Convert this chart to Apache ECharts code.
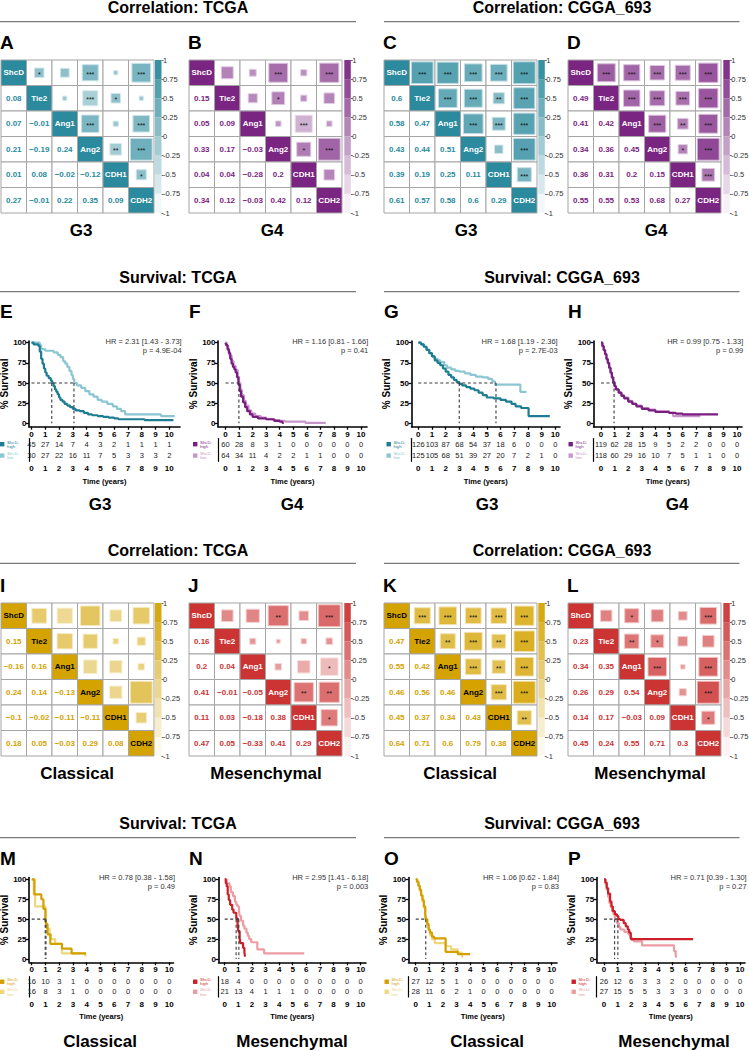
<!DOCTYPE html>
<html><head><meta charset="utf-8">
<script src="https://cdn.jsdelivr.net/npm/echarts@6/dist/echarts.min.js"></script>
<style>html,body{margin:0;padding:0;background:#fff}#c{width:749px;height:1050px}</style>
</head><body><div id="c"></div>
<script>
// ---------------- DATA ----------------
const genes = ['ShcD','Tie2','Ang1','Ang2','CDH1','CDH2'];
// lower triangle: row k => gene k+1 vs genes 0..k
const corrTCGA_G3 = [[0.08],[0.07,-0.01],[0.21,-0.19,0.24],[0.01,0.08,-0.02,-0.12],[0.27,-0.01,0.22,0.35,0.09]];
const corrTCGA_G4 = [[0.15],[0.05,0.09],[0.33,0.17,-0.03],[0.04,0.04,-0.28,0.2],[0.34,0.12,-0.03,0.42,0.12]];
const corrCGGA_G3 = [[0.6],[0.58,0.47],[0.43,0.44,0.51],[0.39,0.19,0.25,0.11],[0.61,0.57,0.58,0.6,0.29]];
const corrCGGA_G4 = [[0.49],[0.41,0.42],[0.34,0.36,0.45],[0.36,0.31,0.2,0.15],[0.55,0.55,0.53,0.68,0.27]];
const corrTCGA_CL = [[0.15],[-0.16,0.16],[0.24,0.14,-0.13],[-0.1,-0.02,-0.11,-0.11],[0.18,0.05,-0.03,0.29,0.08]];
const corrTCGA_MES = [[0.16],[0.2,0.04],[0.41,-0.01,-0.05],[0.11,0.03,-0.18,0.38],[0.47,0.05,-0.33,0.41,0.29]];
const corrCGGA_CL = [[0.47],[0.55,0.42],[0.46,0.56,0.46],[0.45,0.37,0.34,0.43],[0.64,0.71,0.6,0.79,0.38]];
const corrCGGA_MES = [[0.23],[0.34,0.35],[0.26,0.29,0.54],[0.14,0.17,-0.03,0.09],[0.45,0.24,0.55,0.71,0.3]];
// upper triangle significance: row i => genes i+1..5
const starsTCGA_G3 = [['*','','***','','***'],['','***','*',''],['***','','***'],['**','***'],['*']];
const starsTCGA_G4 = [['','','***','','***'],['','*','',''],['','***',''],['*','***'],['']];
const starsCGGA_G3 = [['***','***','***','***','***'],['***','***','**','***'],['***','***','***'],['','***'],['***']];
const starsCGGA_G4 = [['***','***','***','***','***'],['***','***','***','***'],['***','**','***'],['*','***'],['***']];
const starsTCGA_CL = [['','','','',''],['','','',''],['','',''],['',''],['']];
const starsTCGA_MES = [['','','**','','***'],['','','',''],['','','*'],['**','**'],['*']];
const starsCGGA_CL = [['***','***','***','***','***'],['**','***','**','***'],['***','**','***'],['***','***'],['**']];
const starsCGGA_MES = [['','*','','','***'],['**','*','',''],['***','','***'],['','***'],['*']];
const colorbarBreaks = [-1,-0.75,-0.5,-0.25,0,0.25,0.5,0.75,1];

// Kaplan-Meier step points [time (years), % survival]
const kmTCGA_G3_high = [[0,100],[0.15,98],[0.5,96],[0.6,89],[0.7,80],[0.8,74],[0.9,68],[1.0,63],[1.1,59],[1.25,56],[1.4,53],[1.5,50],[1.6,46],[1.7,42],[1.8,39],[1.9,36],[2.0,32],[2.1,29],[2.25,27],[2.4,24],[2.6,22],[2.8,20],[3.0,18],[3.2,16],[3.5,15],[3.8,13],[4.1,11],[4.4,10],[4.8,9],[5.2,8],[5.6,7],[6.0,6],[6.3,5],[8.2,4],[10.3,4]];
const kmTCGA_G3_low = [[0,100],[0.6,97],[0.7,92],[1.0,90],[1.6,88],[1.9,85],[2.1,82],[2.3,77],[2.45,74],[2.6,70],[2.75,65],[2.9,60],[3.0,55],[3.1,50],[3.3,47],[3.6,44],[3.9,40],[4.2,36],[4.5,33],[4.8,29],[5.1,27],[5.5,24],[5.9,21],[6.2,18],[6.5,15],[6.8,11],[9.4,9],[10.4,9]];
const kmTCGA_G4_high = [[0,100],[0.05,97],[0.15,92],[0.25,87],[0.35,80],[0.45,74],[0.55,70],[0.65,67],[0.75,63],[0.85,57],[0.95,48],[1.05,40],[1.15,33],[1.3,26],[1.45,20],[1.6,15],[1.8,11],[2.0,8],[2.4,6],[3.0,5],[3.6,3],[4.0,2],[4.2,0.5],[4.3,0.5]];
const kmTCGA_G4_low = [[0,100],[0.1,96],[0.2,90],[0.3,84],[0.45,77],[0.6,71],[0.75,66],[0.9,58],[1.0,50],[1.1,42],[1.2,35],[1.35,28],[1.5,22],[1.7,16],[1.9,12],[2.2,9],[2.6,7],[3.0,5],[3.5,4],[4.0,3],[4.4,2],[5.9,0.5],[7.4,0.5]];
const kmCGGA_G3_high = [[0,100],[0.2,98],[0.4,95],[0.6,91],[0.8,87],[1.0,83],[1.2,78],[1.4,75],[1.6,72],[1.8,68],[2.0,64],[2.2,60],[2.4,57],[2.6,54],[2.8,51],[3.0,49],[3.2,47],[3.5,45],[3.8,43],[4.1,41],[4.4,38],[4.7,35],[5.0,32],[5.5,31],[6.0,29],[6.4,27],[6.8,24],[7.1,21],[7.5,19],[8.05,9],[9.6,9]];
const kmCGGA_G3_low = [[0,100],[0.2,98],[0.4,95],[0.6,91],[0.8,87],[1.0,83],[1.2,80],[1.4,78],[1.6,76],[1.9,72],[2.1,69],[2.4,67],[2.7,65],[3.0,64],[3.4,62],[3.8,60],[4.2,58],[4.7,57],[5.1,55],[5.4,52],[5.6,48],[7.45,39],[7.9,39]];
const kmCGGA_G4_high = [[0,100],[0.1,96],[0.2,91],[0.3,86],[0.4,80],[0.5,75],[0.6,69],[0.7,63],[0.8,57],[0.9,51],[1.0,46],[1.1,42],[1.3,38],[1.5,34],[1.7,31],[2.0,27],[2.3,24],[2.6,21],[3.0,18],[3.5,16],[4.0,14],[5.0,13],[5.5,12],[6.0,11],[8.6,11]];
const kmCGGA_G4_low = [[0,100],[0.1,95],[0.2,90],[0.3,85],[0.4,79],[0.5,74],[0.6,68],[0.7,62],[0.8,56],[0.9,50],[1.0,46],[1.1,42],[1.3,38],[1.5,35],[1.7,32],[2.0,28],[2.3,24],[2.6,22],[3.0,19],[3.5,17],[4.0,15],[5.0,13],[5.3,9],[7.3,9]];
const kmTCGA_CL_high = [[0,100],[0.2,81],[0.7,75],[0.85,63],[1.0,50],[1.05,44],[1.15,31],[1.35,19],[2.2,13],[2.9,7],[3.95,7]];
const kmTCGA_CL_low = [[0,100],[0.15,81],[0.25,66],[1.0,50],[1.05,44],[1.1,38],[1.3,31],[1.4,25],[1.7,19],[2.2,7],[3.9,3]];
const kmTCGA_MES_high = [[0,100],[0.08,95],[0.15,91],[0.22,81],[0.3,74],[0.4,68],[0.55,62],[0.65,58],[0.85,51],[0.95,43],[1.0,35],[1.1,26],[1.15,20],[1.35,14],[1.45,8],[1.5,3],[1.55,3]];
const kmTCGA_MES_low = [[0,100],[0.15,95],[0.35,91],[0.45,84],[0.6,79],[0.75,72],[0.85,68],[0.95,66],[1.05,60],[1.1,54],[1.2,48],[1.35,42],[1.45,38],[1.6,33],[1.7,29],[1.8,25],[1.95,21],[2.4,12],[2.9,7],[5.85,7]];
const kmCGGA_CL_high = [[0,100],[0.1,97],[0.2,92],[0.3,87],[0.4,80],[0.5,74],[0.6,66],[0.7,56],[0.75,50],[0.85,44],[0.95,37],[1.05,33],[1.2,28],[1.35,26],[2.2,9],[3.1,6],[4.0,6]];
const kmCGGA_CL_low = [[0,100],[0.1,96],[0.2,91],[0.3,85],[0.4,79],[0.5,72],[0.6,64],[0.7,55],[0.75,49],[0.85,42],[0.95,36],[1.05,30],[1.2,25],[1.4,20],[2.2,16],[2.6,12],[3.1,8],[3.4,3],[3.5,3]];
const kmCGGA_MES_high = [[0,100],[0.1,96],[0.2,89],[0.3,82],[0.45,72],[0.55,66],[0.65,60],[0.8,56],[0.95,54],[1.05,50],[1.2,49],[1.45,45],[1.6,41],[1.75,37],[1.85,33],[1.97,25],[6.55,25]];
const kmCGGA_MES_low = [[0,100],[0.1,94],[0.2,87],[0.3,78],[0.4,70],[0.5,65],[0.6,60],[0.7,56],[0.8,50],[0.95,45],[1.1,40],[1.2,37],[1.5,34],[1.8,31],[1.95,27],[2.05,24],[2.2,22],[2.8,17],[5.15,10],[5.27,3],[5.37,3]];
// median survival times (dashed guides)
const medTCGA_G3 = [1.47, 3.08], medTCGA_G4 = [0.99], medCGGA_G3 = [2.99, 5.67], medCGGA_G4 = [0.96];
const medTCGA_CL = [0.98, 1.04], medTCGA_MES = [0.84, 1.04], medCGGA_CL = [0.74], medCGGA_MES = [0.78, 1.02];
const medianLevel = 50;
// numbers at risk
const riskTimes = [0,1,2,3,4,5,6,7,8,9,10];
const riskTCGA_G3_high = [45,27,14,7,4,3,2,1,1,1,1], riskTCGA_G3_low = [30,27,22,16,11,7,5,3,3,3,2];
const riskTCGA_G4_high = [60,28,8,3,1,0,0,0,0,0,0], riskTCGA_G4_low = [64,34,11,4,2,2,1,1,0,0,0];
const riskCGGA_G3_high = [126,103,87,68,54,37,18,6,0,0,0], riskCGGA_G3_low = [125,105,68,51,39,27,20,7,2,1,0];
const riskCGGA_G4_high = [119,62,28,15,9,5,2,2,0,0,0], riskCGGA_G4_low = [118,60,29,16,10,7,5,1,1,0,0];
const riskTCGA_CL_high = [16,10,3,1,0,0,0,0,0,0,0], riskTCGA_CL_low = [16,8,3,1,0,0,0,0,0,0,0];
const riskTCGA_MES_high = [18,4,0,0,0,0,0,0,0,0,0], riskTCGA_MES_low = [21,13,4,1,1,1,0,0,0,0,0];
const riskCGGA_CL_high = [27,12,5,1,0,0,0,0,0,0,0], riskCGGA_CL_low = [28,11,6,2,1,0,0,0,0,0,0];
const riskCGGA_MES_high = [26,12,6,3,3,2,0,0,0,0,0], riskCGGA_MES_low = [27,15,5,5,3,3,3,0,0,0,0];
const hrTCGA_G3 = ['HR = 2.31 [1.43 - 3.73]','p = 4.9E-04'];
const hrTCGA_G4 = ['HR = 1.16 [0.81 - 1.66]','p = 0.41'];
const hrCGGA_G3 = ['HR = 1.68 [1.19 - 2.36]','p = 2.7E-03'];
const hrCGGA_G4 = ['HR = 0.99 [0.75 - 1.33]','p = 0.99'];
const hrTCGA_CL = ['HR = 0.78 [0.38 - 1.58]','p = 0.49'];
const hrTCGA_MES = ['HR = 2.95 [1.41 - 6.18]','p = 0.003'];
const hrCGGA_CL = ['HR = 1.06 [0.62 - 1.84]','p = 0.83'];
const hrCGGA_MES = ['HR = 0.71 [0.39 - 1.30]','p = 0.27'];
const timeTicks = [0,1,2,3,4,5,6,7,8,9,10];
const survTicks = [0,25,50,75,100];
const riskGroups = ['ShcD-\nhigh','ShcD-\nlow'];

// ---------------- STYLE / LAYOUT ----------------
const FONT = "'Liberation Sans', Arial, Helvetica, sans-serif";
const C = {
  teal:{corr:'#2b8a9d', hi:'#1c7d92', lo:'#8cc6d3', diagText:'#fff'},
  purple:{corr:'#7b2582', hi:'#7a1d80', lo:'#c896cb', diagText:'#fff'},
  gold:{corr:'#d4a300', hi:'#d4a000', lo:'#eed77c', diagText:'#000'},
  red:{corr:'#cc3333', hi:'#cc1f28', lo:'#ec9ca2', diagText:'#fff'}
};
function mix(hex, t){
  const r=parseInt(hex.slice(1,3),16), g=parseInt(hex.slice(3,5),16), b=parseInt(hex.slice(5,7),16);
  const f=v=>Math.round(255-(255-v)*t);
  return 'rgb('+f(r)+','+f(g)+','+f(b)+')';
}
const option = {animation:false, textStyle:{fontFamily:FONT}, grid:[], xAxis:[], yAxis:[], series:[], graphic:[]};
const G = option.graphic;
function txt(x,y,text,o){
  G.push({type:'text', x:x, y:y, silent:true, style:Object.assign({text:text, fontFamily:FONT, fill:'#000', align:'center', verticalAlign:'middle'}, o||{})});
}
function hline(x1,x2,y){ G.push({type:'line', silent:true, shape:{x1:x1,y1:y,x2:x2,y2:y}, style:{stroke:'#7a7a7a', lineWidth:1.3}}); }
function addGrid(g){ g.containLabel=false; g.outerBoundsMode='none'; option.grid.push(g); return option.grid.length-1; }

function corrPanel(cfg){
  const col = cfg.col;
  const gi = addGrid({left:cfg.left, top:cfg.top, width:cfg.size, height:cfg.size});
  option.xAxis.push({gridIndex:gi, type:'category', data:genes, show:false});
  option.yAxis.push({gridIndex:gi, type:'category', data:genes, inverse:true, show:false});
  const L = cfg.lower, S = cfg.stars;
  let maxAbs = 0; L.forEach(r=>r.forEach(v=>{maxAbs=Math.max(maxAbs,Math.abs(v));}));
  const data = [];
  for (let i=0;i<6;i++) for (let j=0;j<6;j++){
    const r = i===j ? 1 : (i>j ? L[i-1][j] : L[j-1][i]);
    data.push([j,i,r]);
  }
  option.series.push({type:'custom', xAxisIndex:gi, yAxisIndex:gi, silent:true, data:data,
    renderItem:function(params, api){
      const j=api.value(0), i=api.value(1), r=api.value(2);
      const c=api.coord([j,i]), sz=api.size([1,1]), w=sz[0], h=sz[1];
      const ch=[{type:'rect', shape:{x:c[0]-w/2, y:c[1]-h/2, width:w, height:h},
        style:{fill: i===j ? col.corr : '#fff', stroke:'#a5a5a5', lineWidth:1}}];
      const ts = {fontFamily:FONT, align:'center', verticalAlign:'middle', fontWeight:'bold', fontSize:8};
      if (i===j){
        ch.push({type:'text', x:c[0], y:c[1], style:Object.assign({text:genes[i], fill:col.diagText}, ts)});
      } else if (i>j){
        const s = (r<0?'\u2212':'') + String(Math.abs(r));
        ch.push({type:'text', x:c[0], y:c[1], style:Object.assign({text:s, fill:col.corr}, ts)});
      } else {
        const k = w*(0.1+0.76*Math.pow(Math.abs(r)/maxAbs,0.7));
        const t = (r+1)/2;
        ch.push({type:'rect', shape:{x:c[0]-k/2, y:c[1]-k/2, width:k, height:k},
          style:{fill:mix(col.corr,t), stroke:mix(col.corr,t*0.4), lineWidth:1}});
        const st = S[i][j-i-1];
        if (st) ch.push({type:'text', x:c[0], y:c[1]+1.5, style:{text:st, fill:'#111', fontSize:7, fontFamily:FONT, align:'center', verticalAlign:'middle'}});
      }
      return {type:'group', children:ch};
    }});
  // colour bar
  const ci = addGrid({left:cfg.cbX, top:cfg.top, width:6.5, height:cfg.size});
  option.xAxis.push({gridIndex:ci, type:'category', data:['c'], show:false});
  option.yAxis.push({gridIndex:ci, type:'value', min:-1, max:1, interval:0.25, position:'right',
    axisLine:{show:false}, splitLine:{show:false},
    axisTick:{show:true, length:2, lineStyle:{color:'#444', width:0.8}},
    axisLabel:{fontSize:7.5, color:'#333', margin:1.5, fontFamily:FONT}});
  const segs = [];
  for (let k=0;k<colorbarBreaks.length-1;k++) segs.push([0, colorbarBreaks[k], colorbarBreaks[k+1]]);
  option.series.push({type:'custom', xAxisIndex:ci, yAxisIndex:ci, silent:true, data:segs,
    renderItem:function(params, api){
      const lo=api.value(1), hi=api.value(2);
      const p1=api.coord([0,hi]), p2=api.coord([0,lo]), w=api.size([1,0])[0];
      return {type:'rect', shape:{x:p1[0]-w/2, y:p1[1], width:w, height:p2[1]-p1[1]},
        style:{fill:mix(col.corr,((lo+hi)/2+1)/2)}};
    }});
  txt(cfg.left-1, cfg.top-18, cfg.letter, {fontSize:19, fontWeight:'bold', align:'left'});
  txt(cfg.labelX, cfg.top+cfg.size+17, cfg.label, {fontSize:17, fontWeight:'bold'});
}

const axisBase = {lineStyle:{color:'#000', width:1.6}};
function kmPanel(p){
  const R = p.row, col = p.col;
  const unit=(p.x10-p.x0)/10;
  const xmin=(p.axisX-p.x0)/unit, xmax=(p.axisEnd-p.x0)/unit;
  const yu=(R.y0-R.y100)/100;
  const ymin=-(R.yBot-R.y0)/yu, ymax=(R.y0-R.yTop)/yu;
  const tickStyle={lineStyle:{color:'#000', width:1.3}, length:3};
  const labStyle={fontSize:8, fontWeight:'bold', color:'#000', fontFamily:FONT};
  const gi = addGrid({left:p.axisX, top:R.yTop, width:p.axisEnd-p.axisX, height:R.yBot-R.yTop});
  option.xAxis.push({gridIndex:gi, type:'value', min:xmin, max:xmax, splitLine:{show:false},
    axisLine:Object.assign({onZero:false},axisBase),
    axisTick:Object.assign({customValues:timeTicks},tickStyle),
    axisLabel:Object.assign({customValues:timeTicks, margin:3.5},labStyle)});
  option.yAxis.push({gridIndex:gi, type:'value', min:ymin, max:ymax, splitLine:{show:false},
    name:'% Survival', nameLocation:'middle', nameGap:17,
    nameTextStyle:{fontSize:10, fontWeight:'bold', color:'#000', fontFamily:FONT},
    axisLine:Object.assign({onZero:false},axisBase),
    axisTick:Object.assign({customValues:survTicks},tickStyle),
    axisLabel:Object.assign({customValues:survTicks, margin:2.5},labStyle)});
  const line=(d,c,z)=>option.series.push({type:'line', xAxisIndex:gi, yAxisIndex:gi, data:d, step:'end',
    symbol:'none', showSymbol:false, silent:true, z:z, lineStyle:{color:c, width:2.2}});
  line(p.low, col.lo, 3); line(p.high, col.hi, 4);
  const dash={type:'line', xAxisIndex:gi, yAxisIndex:gi, symbol:'none', showSymbol:false, silent:true, z:5,
    lineStyle:{color:'#3a3a3a', width:1.1, type:[3,2.5]}};
  const mmax=Math.max.apply(null,p.med);
  option.series.push(Object.assign({}, dash, {data:[[0,medianLevel],[mmax,medianLevel]]}));
  p.med.forEach(m=>option.series.push(Object.assign({}, dash, {data:[[m,medianLevel],[m,0]]})));
  // risk table
  const ri = addGrid({left:p.axisX, top:R.rTop, width:p.axisEnd-p.axisX, height:R.rBot-R.rTop});
  option.xAxis.push({gridIndex:ri, type:'value', min:xmin, max:xmax, splitLine:{show:false},
    name:'Time (years)', nameLocation:'middle', nameGap:16,
    nameTextStyle:{fontSize:7.5, fontWeight:'bold', color:'#000', fontFamily:FONT},
    axisLine:Object.assign({onZero:false},axisBase),
    axisTick:Object.assign({customValues:timeTicks},tickStyle),
    axisLabel:Object.assign({customValues:timeTicks, margin:3.5},labStyle)});
  option.yAxis.push({gridIndex:ri, type:'category', data:['high','low'], inverse:true,
    axisLine:{show:true, onZero:false, lineStyle:{color:'#000', width:1.2}}, axisTick:{show:false}, axisLabel:{show:false}, splitLine:{show:false}});
  const rd=[];
  p.riskHigh.forEach((v,k)=>rd.push([riskTimes[k],0,v]));
  p.riskLow.forEach((v,k)=>rd.push([riskTimes[k],1,v]));
  option.series.push({type:'custom', xAxisIndex:ri, yAxisIndex:ri, silent:true, data:rd,
    renderItem:function(params, api){
      const c=api.coord([api.value(0),api.value(1)]);
      return {type:'text', x:c[0], y:c[1], style:{text:String(api.value(2)), fontSize:7.5, fill:'#222', fontFamily:FONT, align:'center', verticalAlign:'middle'}};
    }});
  const band=(R.rBot-R.rTop)/2;
  [[col.hi,0],[col.lo,1]].forEach(([c,k])=>{
    const y=R.rTop+band*(k+0.5);
    G.push({type:'rect', silent:true, shape:{x:p.legX, y:y-2.2, width:4.4, height:4.4}, style:{fill:c}});
    txt(p.legX+7, y, riskGroups[k], {fontSize:4.3, lineHeight:4.4, fill:c, align:'left'});
  });
  txt(p.hrRight, R.hr1, p.hr[0], {fontSize:7.5, fill:'#333', align:'right'});
  txt(p.hrRight, R.hr2, p.hr[1], {fontSize:7.5, fill:'#333', align:'right'});
  txt(p.letterX, R.letterY, p.letter, {fontSize:19, fontWeight:'bold', align:'left'});
  txt(p.labelX, R.labelY, p.label, {fontSize:17, fontWeight:'bold'});
}

// ---------------- BUILD ----------------
[['Correlation: TCGA','Correlation: CGGA_693',7,21.7],['Survival: TCGA','Survival: CGGA_693',277,291.7],
 ['Correlation: TCGA','Correlation: CGGA_693',550.5,563.3],['Survival: TCGA','Survival: CGGA_693',823,837.7]]
.forEach(([a,b,y,ly])=>{
  txt(178,y,a,{fontSize:16,fontWeight:'bold'}); txt(562,y,b,{fontSize:16,fontWeight:'bold'});
  hline(0,356,ly); hline(384,739.5,ly);
});

const corrRows=[
  {top:60, panels:[
    {letter:'A', lower:corrTCGA_G3, stars:starsTCGA_G3, col:C.teal, label:'G3', labelX:81},
    {letter:'B', lower:corrTCGA_G4, stars:starsTCGA_G4, col:C.purple, label:'G4', labelX:272},
    {letter:'C', lower:corrCGGA_G3, stars:starsCGGA_G3, col:C.teal, label:'G3', labelX:466},
    {letter:'D', lower:corrCGGA_G4, stars:starsCGGA_G4, col:C.purple, label:'G4', labelX:656}]},
  {top:603, panels:[
    {letter:'I', lower:corrTCGA_CL, stars:starsTCGA_CL, col:C.gold, label:'Classical', labelX:77},
    {letter:'J', lower:corrTCGA_MES, stars:starsTCGA_MES, col:C.red, label:'Mesenchymal', labelX:266},
    {letter:'K', lower:corrCGGA_CL, stars:starsCGGA_CL, col:C.gold, label:'Classical', labelX:460},
    {letter:'L', lower:corrCGGA_MES, stars:starsCGGA_MES, col:C.red, label:'Mesenchymal', labelX:650}]}
];
const corrX=[{left:1,cbX:155},{left:189,cbX:344.3},{left:384,cbX:538.3},{left:568,cbX:723.3}];
corrRows.forEach(row=>row.panels.forEach((p,k)=>{
  corrPanel(Object.assign({top:row.top, size:153, left:corrX[k].left, cbX:corrX[k].cbX}, p));
}));

const R2={y100:342.7, y0:423.3, yTop:341, yBot:426.7, rTop:438.5, rBot:461.3, hr1:341, hr2:350, letterY:311.5, labelY:504};
const R4={y100:879.3, y0:959, yTop:877.5, yBot:962.3, rTop:976.7, rBot:996.9, hr1:877.3, hr2:886.7, letterY:858, labelY:1041};
[
 {row:R2, letter:'E', letterX:0, axisX:29, x0:31.5, x10:169.3, axisEnd:180, legX:0, hrRight:181.7, col:C.teal, high:kmTCGA_G3_high, low:kmTCGA_G3_low, med:medTCGA_G3, riskHigh:riskTCGA_G3_high, riskLow:riskTCGA_G3_low, hr:hrTCGA_G3, label:'G3', labelX:100},
 {row:R2, letter:'F', letterX:189, axisX:218, x0:225.5, x10:361, axisEnd:367, legX:193, hrRight:368.3, col:C.purple, high:kmTCGA_G4_high, low:kmTCGA_G4_low, med:medTCGA_G4, riskHigh:riskTCGA_G4_high, riskLow:riskTCGA_G4_low, hr:hrTCGA_G4, label:'G4', labelX:292},
 {row:R2, letter:'G', letterX:384, axisX:411.5, x0:418.3, x10:555.3, axisEnd:560, legX:386.5, hrRight:557.7, col:C.teal, high:kmCGGA_G3_high, low:kmCGGA_G3_low, med:medCGGA_G3, riskHigh:riskCGGA_G3_high, riskLow:riskCGGA_G3_low, hr:hrCGGA_G3, label:'G3', labelX:487},
 {row:R2, letter:'H', letterX:568, axisX:593.5, x0:601, x10:737, axisEnd:742, legX:568.5, hrRight:743.3, col:C.purple, high:kmCGGA_G4_high, low:kmCGGA_G4_low, med:medCGGA_G4, riskHigh:riskCGGA_G4_high, riskLow:riskCGGA_G4_low, hr:hrCGGA_G4, label:'G4', labelX:677},
 {row:R4, letter:'M', letterX:0, axisX:29, x0:31.7, x10:169.3, axisEnd:173.5, legX:0, hrRight:175, col:C.gold, high:kmTCGA_CL_high, low:kmTCGA_CL_low, med:medTCGA_CL, riskHigh:riskTCGA_CL_high, riskLow:riskTCGA_CL_low, hr:hrTCGA_CL, label:'Classical', labelX:100},
 {row:R4, letter:'N', letterX:189, axisX:218.5, x0:224.7, x10:360.7, axisEnd:366, legX:193, hrRight:368.3, col:C.red, high:kmTCGA_MES_high, low:kmTCGA_MES_low, med:medTCGA_MES, riskHigh:riskTCGA_MES_high, riskLow:riskTCGA_MES_low, hr:hrTCGA_MES, label:'Mesenchymal', labelX:292},
 {row:R4, letter:'O', letterX:384, axisX:408.5, x0:415.7, x10:551.7, axisEnd:557, legX:384.5, hrRight:559, col:C.gold, high:kmCGGA_CL_high, low:kmCGGA_CL_low, med:medCGGA_CL, riskHigh:riskCGGA_CL_high, riskLow:riskCGGA_CL_low, hr:hrCGGA_CL, label:'Classical', labelX:487},
 {row:R4, letter:'P', letterX:568, axisX:596.7, x0:604, x10:740, axisEnd:745, legX:571.5, hrRight:746.7, col:C.red, high:kmCGGA_MES_high, low:kmCGGA_MES_low, med:medCGGA_MES, riskHigh:riskCGGA_MES_high, riskLow:riskCGGA_MES_low, hr:hrCGGA_MES, label:'Mesenchymal', labelX:674}
].forEach(kmPanel);

const chart = echarts.init(document.getElementById('c'), null, {renderer:'svg', width:749, height:1050});
chart.setOption(option);
</script>
</body></html>
